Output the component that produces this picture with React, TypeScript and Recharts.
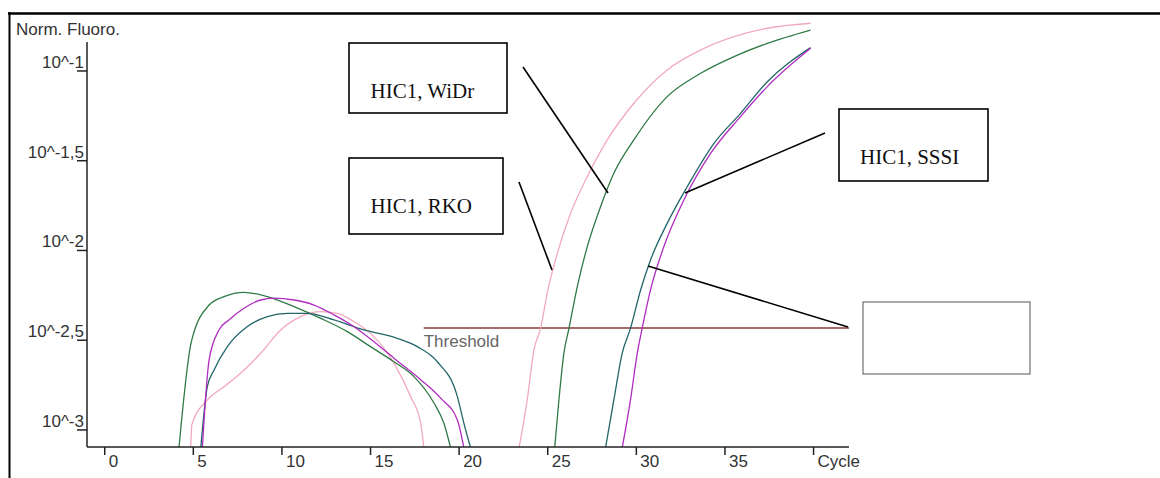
import React from "react";
import { LineChart, Line, XAxis, YAxis, ReferenceLine } from "recharts";

// Cycle positions and log10(normalised fluorescence) values; null splits the two segments
const pinkCycles = [4.85, 4.92, 5.79, 6.73, 7.67, 8.8, 9.93, 11.06, 12.19, 13.13, 14.07, 15.19, 16.32, 17.26, 17.83, 18.01, 20.5, 23.38, 23.84, 24.22, 24.6, 24.97, 25.54, 26.29, 27.23, 28.36, 29.86, 31.74, 33.63, 35.51, 37.39, 39.83];
const pinkLog = [-3.1, -2.97, -2.833, -2.759, -2.684, -2.573, -2.443, -2.369, -2.341, -2.35, -2.397, -2.48, -2.628, -2.814, -2.963, -3.1, null, -3.1, -2.833, -2.554, -2.433, -2.238, -2.016, -1.793, -1.589, -1.384, -1.18, -0.994, -0.883, -0.809, -0.762, -0.734];

const greenCycles = [4.19, 4.89, 5.89, 6.73, 7.86, 9.18, 10.68, 12.19, 13.69, 15.0, 16.32, 17.45, 18.58, 19.14, 19.52, 22.0, 25.39, 25.63, 25.91, 26.2, 26.67, 27.23, 27.98, 28.73, 29.86, 31.74, 33.63, 35.51, 37.39, 39.83];
const greenLog = [-3.1, -2.508, -2.304, -2.257, -2.233, -2.257, -2.313, -2.378, -2.452, -2.536, -2.62, -2.703, -2.85, -2.963, -3.1, null, -3.1, -2.833, -2.573, -2.433, -2.2, -1.979, -1.756, -1.57, -1.384, -1.143, -1.013, -0.92, -0.846, -0.772];

const purpleCycles = [5.51, 5.89, 6.45, 7.01, 7.86, 8.8, 9.55, 10.68, 11.81, 12.94, 14.07, 15.19, 16.32, 17.83, 18.96, 19.9, 20.27, 24.0, 29.2, 29.67, 30.05, 30.33, 30.8, 31.55, 32.68, 34.19, 35.88, 37.39, 39.83];
const purpleLog = [-3.1, -2.61, -2.443, -2.387, -2.322, -2.276, -2.266, -2.276, -2.304, -2.359, -2.425, -2.508, -2.6, -2.72, -2.823, -2.944, -3.1, null, -3.1, -2.833, -2.573, -2.433, -2.22, -1.979, -1.719, -1.459, -1.254, -1.087, -0.874];

const tealCycles = [5.42, 5.79, 6.17, 6.92, 8.05, 9.18, 10.31, 11.44, 12.94, 14.63, 16.51, 17.64, 18.77, 19.9, 20.27, 20.65, 24.0, 28.26, 28.73, 29.2, 29.67, 30.24, 30.8, 31.74, 32.87, 34.38, 35.88, 37.39, 39.83];
const tealLog = [-3.1, -2.759, -2.666, -2.536, -2.424, -2.369, -2.35, -2.35, -2.387, -2.443, -2.49, -2.536, -2.62, -2.814, -2.963, -3.1, null, -3.1, -2.833, -2.573, -2.433, -2.22, -2.053, -1.849, -1.645, -1.403, -1.236, -1.06, -0.87];

const yTicks = [-1, -1.5, -2, -2.5, -3];
const yTickLabels = ["10^-1", "10^-1,5", "10^-2", "10^-2,5", "10^-3"];
const xTicks = [0, 5, 10, 15, 20, 25, 30, 35, 40];
const xTickLabels = ["0", "5", "10", "15", "20", "25", "30", "35", "Cycle"];
const thresholdLog = -2.432;
const thresholdStart = 18;
const thresholdEnd = 42;

const build = (cs: number[], vs: (number | null)[]) => cs.map((c, i) => ({ x: c, y: vs[i] }));

const SANS = "'Liberation Sans', Arial, sans-serif";
const SERIF = "'Liberation Serif', 'Times New Roman', serif";

const YTick = (props: any) => {
  const { x, y, payload } = props;
  const idx = yTicks.indexOf(payload.value);
  return (
    <g>
      <line x1={x - 10} y1={y} x2={x} y2={y} stroke="#222" strokeWidth={1.5} />
      <text x={x - 3} y={y - 3} textAnchor="end" fontFamily={SANS} fontSize={17} fill="#333">
        {idx >= 0 ? yTickLabels[idx] : ""}
      </text>
    </g>
  );
};

const XTick = (props: any) => {
  const { x, y, payload } = props;
  const idx = xTicks.indexOf(payload.value);
  return (
    <g>
      <line x1={x} y1={y} x2={x} y2={y + 8} stroke="#222" strokeWidth={1.5} />
      <text x={x + 4} y={y + 20} textAnchor="start" fontFamily={SANS} fontSize={17} fill="#333">
        {idx >= 0 ? xTickLabels[idx] : ""}
      </text>
    </g>
  );
};

const ThresholdLabel = (props: any) => {
  const vb = props.viewBox || {};
  return (
    <text x={vb.x} y={(vb.y || 0) + 19} fontFamily={SANS} fontSize={17} fill="#666">
      Threshold
    </text>
  );
};

export default function App() {
  return (
    <div style={{ position: "absolute", left: 0, top: 0, width: 1160, height: 478, background: "#fff" }}>
      <LineChart width={1160} height={478} margin={{ top: 20, right: 311, left: 0, bottom: 0 }}>
        <XAxis
          type="number"
          dataKey="x"
          domain={[-1, 42]}
          ticks={xTicks}
          allowDataOverflow
          tickSize={0}
          tickMargin={0}
          tickLine={false}
          axisLine={{ stroke: "#222", strokeWidth: 1.5 }}
          tick={<XTick />}
          height={31}
          interval={0}
        />
        <YAxis
          type="number"
          dataKey="y"
          domain={[-3.095, -0.716]}
          ticks={yTicks}
          allowDataOverflow
          tickSize={0}
          tickMargin={0}
          tickLine={false}
          axisLine={false}
          tick={<YTick />}
          width={87}
          interval={0}
        />
        <ReferenceLine
          segment={[{ x: thresholdStart, y: thresholdLog }, { x: thresholdEnd, y: thresholdLog }]}
          stroke="#8b3a3a"
          strokeWidth={1.5}
          label={<ThresholdLabel />}
        />
        <Line data={build(pinkCycles, pinkLog)} dataKey="y" type="monotone" stroke="#f2a9c0" strokeWidth={1.3} dot={false} isAnimationActive={false} connectNulls={false} />
        <Line data={build(greenCycles, greenLog)} dataKey="y" type="monotone" stroke="#2f7a45" strokeWidth={1.3} dot={false} isAnimationActive={false} connectNulls={false} />
        <Line data={build(tealCycles, tealLog)} dataKey="y" type="monotone" stroke="#22666a" strokeWidth={1.3} dot={false} isAnimationActive={false} connectNulls={false} />
        <Line data={build(purpleCycles, purpleLog)} dataKey="y" type="monotone" stroke="#b02cc0" strokeWidth={1.3} dot={false} isAnimationActive={false} connectNulls={false} />
      </LineChart>
      <svg width={1160} height={478} style={{ position: "absolute", left: 0, top: 0, pointerEvents: "none" }}>
        <line x1={8} y1={13.5} x2={1160} y2={13.5} stroke="#000" strokeWidth={2.3} />
        <line x1={9.5} y1={12} x2={9.5} y2={478} stroke="#000" strokeWidth={2} />
        <line x1={87} y1={42} x2={87} y2={447} stroke="#222" strokeWidth={1.5} />
        <text x={16} y={35} fontFamily={SANS} fontSize={17} fill="#333">Norm. Fluoro.</text>

        <rect x={349} y={43} width={158} height={70} fill="#fff" stroke="#000" strokeWidth={1.6} />
        <text x={370.5} y={98} fontFamily={SERIF} fontSize={21} fill="#111">HIC1, WiDr</text>
        <rect x={349} y={158} width={154} height={76} fill="#fff" stroke="#000" strokeWidth={1.6} />
        <text x={370.5} y={213} fontFamily={SERIF} fontSize={21} fill="#111">HIC1, RKO</text>
        <rect x={839} y={109} width={149} height={72} fill="#fff" stroke="#000" strokeWidth={1.6} />
        <text x={860} y={164} fontFamily={SERIF} fontSize={21} fill="#111">HIC1, SSSI</text>
        <rect x={863} y={302} width={167} height={72} fill="#fff" stroke="#555" strokeWidth={1} />

        <line x1={523} y1={67} x2={608} y2={193} stroke="#000" strokeWidth={1.6} />
        <line x1={519} y1={182} x2={552} y2={270} stroke="#000" strokeWidth={1.6} />
        <line x1={825} y1={133} x2={685} y2={193} stroke="#000" strokeWidth={1.6} />
        <line x1={648} y1={266} x2={848} y2={327} stroke="#000" strokeWidth={1.6} />
      </svg>
    </div>
  );
}
